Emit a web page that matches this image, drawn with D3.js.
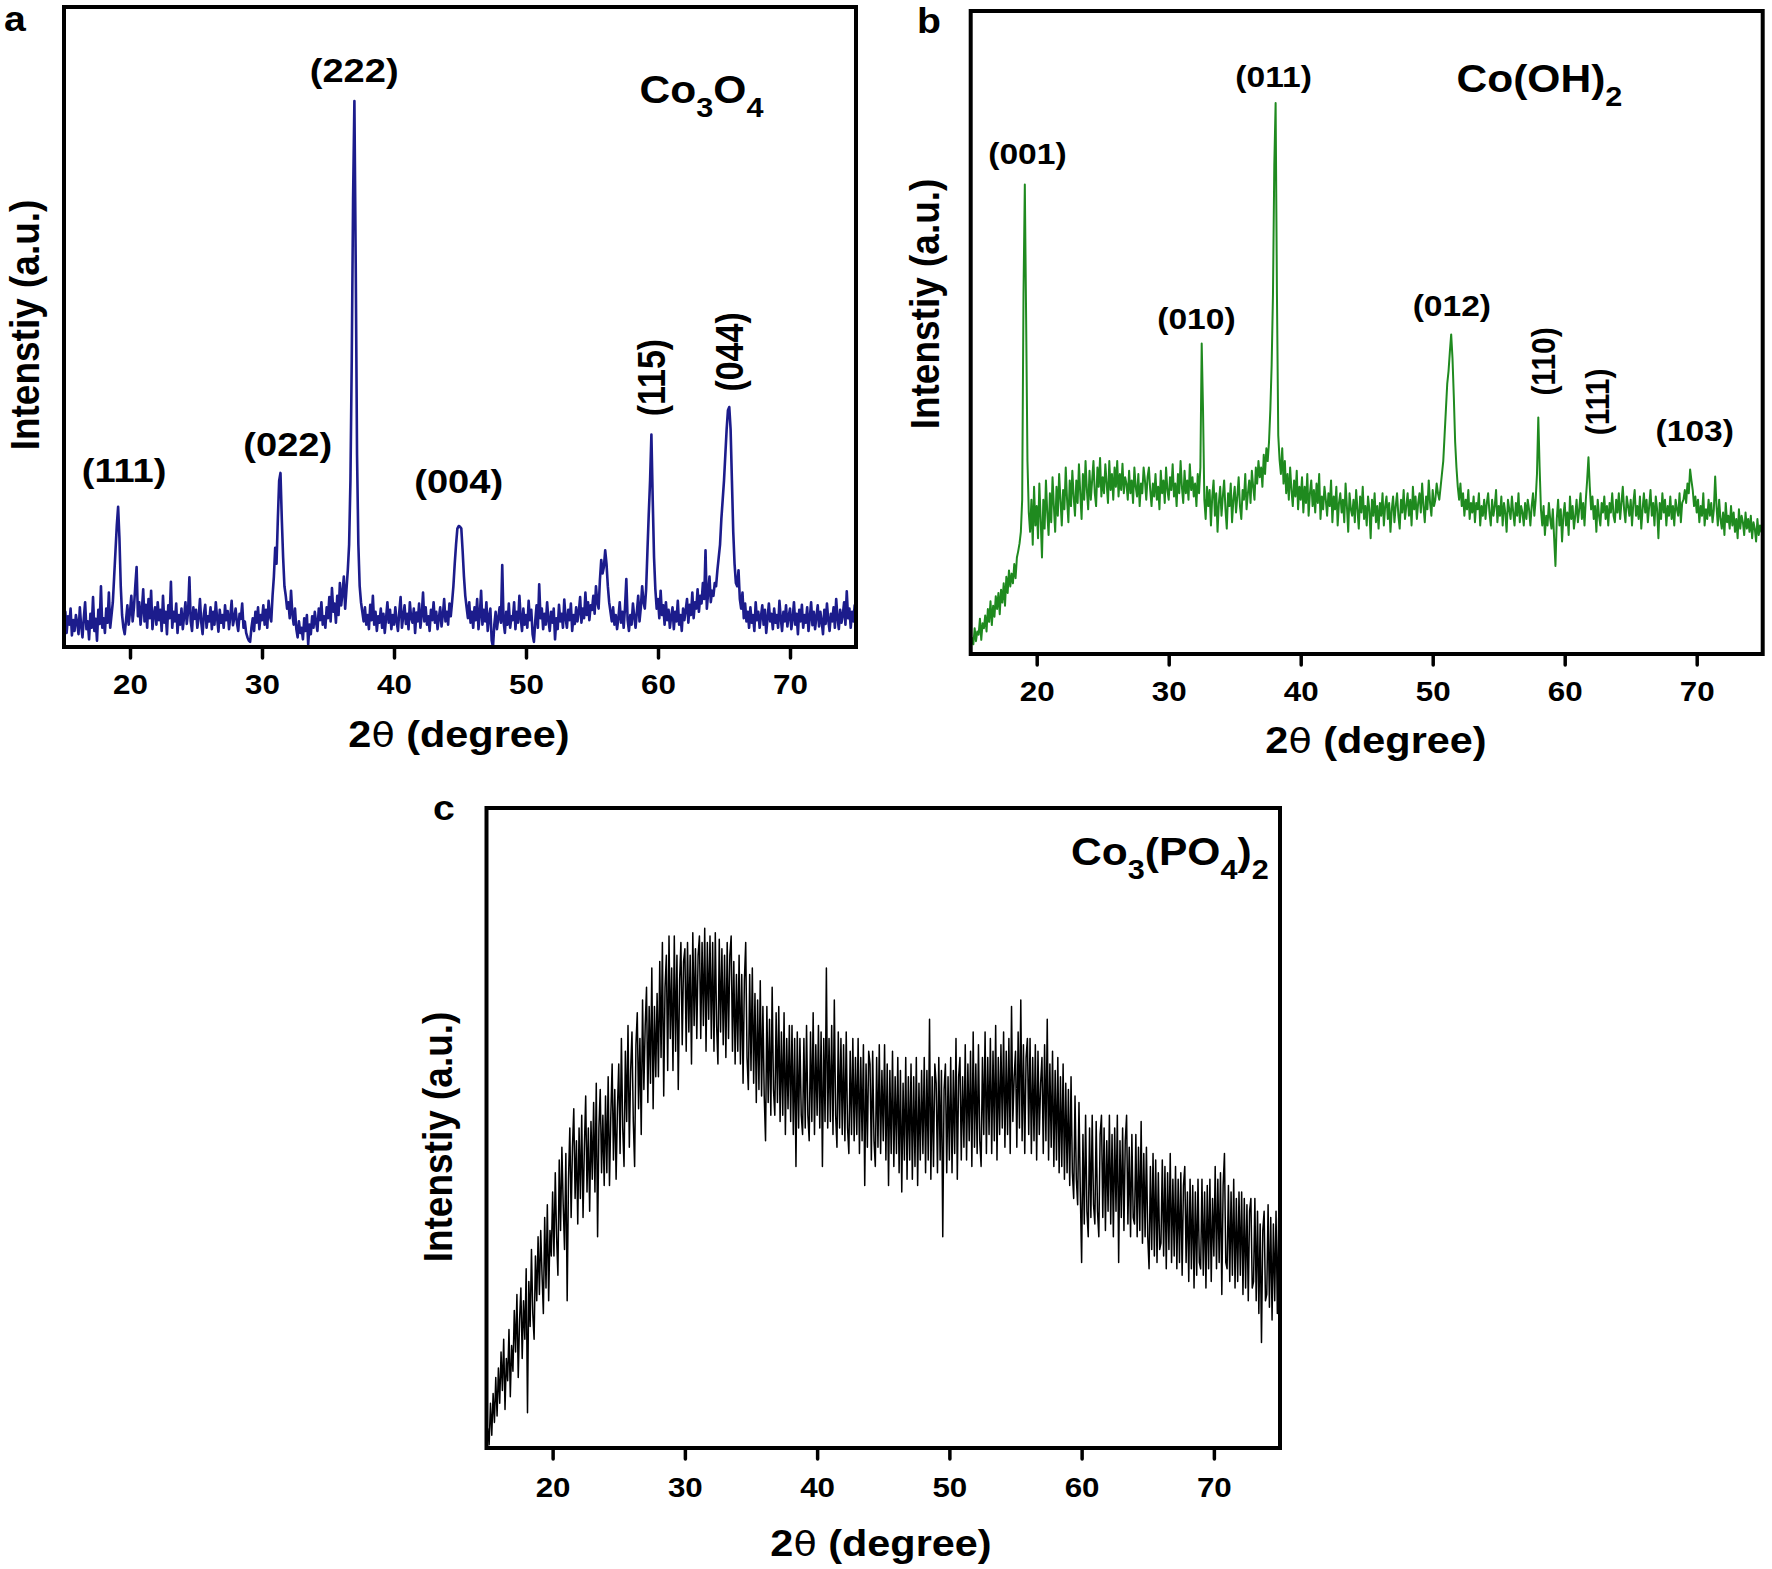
<!DOCTYPE html>
<html><head><meta charset="utf-8">
<script src="https://cdn.jsdelivr.net/npm/d3@7"></script>
<style>html,body{margin:0;padding:0;background:#fff;} svg{display:block;}</style>
</head><body>
<svg id="chart" width="1772" height="1569"></svg>
<script>
// ---- data ----
const twoThetaStart = 15, twoThetaStep = 0.1;   // 2θ grid, degrees
const xDomain = [15, 75];
const tickValues = [20, 30, 40, 50, 60, 70];

// Co3O4 intensity (a.u.), 15.0 .. 75.0 step 0.1
const co3o4 = [
30,55,22,48,35,60,18,42,25,50,
38,20,62,33,15,45,70,28,40,12,
52,30,78,25,44,10,58,36,95,30,
45,22,60,38,85,30,50,70,110,150,
190,219,170,95,50,30,20,42,65,35,
55,80,40,62,95,125,48,70,35,58,
90,40,66,30,75,45,88,28,50,62,
35,70,42,58,25,80,38,55,20,65,
45,102,30,55,40,68,22,50,35,60,
28,48,70,36,55,109,40,25,62,44,
58,30,46,75,38,20,52,66,30,48,
40,62,28,55,35,70,45,24,58,38,
50,30,65,42,56,28,48,72,34,45,
60,38,25,52,44,68,30,40,22,15,
10,8,30,45,25,55,38,62,28,50,
42,65,35,58,30,72,48,40,80,110,
155,130,200,260,272,200,140,95,80,60,
70,45,88,52,35,60,28,15,40,22,
30,12,45,25,50,4,35,20,48,30,
55,38,25,60,42,70,35,48,30,62,
45,78,40,92,55,68,38,80,50,100,
65,85,110,60,90,120,160,260,450,700,
853,600,300,160,95,70,55,40,62,35,
50,28,66,42,80,35,55,25,48,38,
60,30,52,22,45,70,38,58,28,50,
35,62,40,25,55,78,30,48,65,36,
52,28,70,45,38,60,22,54,40,68,
30,50,85,40,62,35,48,25,58,42,
70,38,55,28,46,62,32,50,75,40,
55,35,68,48,70,95,130,160,185,189,
188,185,150,110,80,62,45,70,38,55,
30,62,42,75,28,50,88,35,58,40,
70,25,48,60,10,0,35,55,28,45,
62,38,128,40,22,55,35,68,30,48,
42,70,28,55,38,80,45,25,60,35,
50,30,72,42,58,20,8,40,65,30,
98,45,60,28,52,35,70,42,25,55,
38,60,12,45,28,66,40,52,30,74,
45,30,58,42,68,25,50,36,62,40,
55,78,38,60,45,85,50,70,42,65,
58,80,52,95,70,60,105,136,115,125,
151,130,95,70,55,40,62,35,50,28,
45,70,38,55,30,62,106,42,25,50,
35,68,48,30,55,80,40,62,95,70,
60,90,150,208,260,332,230,140,90,60,
75,45,88,50,65,35,70,42,58,30,
48,62,28,55,40,72,35,50,25,60,
42,58,75,38,66,50,85,45,70,60,
90,55,80,68,100,75,151,60,85,110,
70,88,80,100,95,120,140,160,200,230,
260,300,340,370,375,340,260,180,130,100,
95,120,75,60,85,45,68,40,55,30,
62,38,50,25,70,42,55,30,48,65,
35,58,22,45,68,40,52,28,60,38,
50,30,72,45,25,55,40,65,32,48,
60,28,44,70,35,52,20,58,40,66,
30,50,38,62,25,46,70,34,55,28,
48,65,32,55,40,20,58,36,68,42,
25,52,40,62,30,75,45,28,58,38,
50,70,35,87,45,60,30,55,40,65,
45];

// Co(OH)2 intensity (a.u.)
const cooh2 = [
9,25,15,40,20,35,30,55,22,48,
40,60,35,70,50,82,45,75,58,90,
70,95,62,100,80,110,75,120,95,130,
105,125,110,140,118,150,160,172,190,240,
560,730,520,300,220,190,240,170,260,200,
230,180,265,210,150,240,195,270,220,185,
250,205,275,230,190,260,215,280,240,200,
255,225,290,240,205,270,230,285,245,215,
270,235,295,250,210,280,240,300,255,225,
285,240,270,300,250,230,290,260,305,245,
275,250,295,265,235,300,255,280,240,290,
260,300,245,280,255,296,250,275,265,240,
285,250,270,235,290,260,245,280,230,265,
250,290,270,240,275,290,255,230,265,245,
280,240,260,225,285,250,270,235,290,255,
240,275,255,295,245,265,230,280,250,300,
260,235,285,250,270,240,295,255,275,245,
265,230,280,250,290,483,380,240,210,260,
230,255,200,245,270,215,250,190,235,260,
215,245,270,225,195,250,230,265,205,240,
260,220,245,275,230,210,255,240,280,225,
250,270,235,285,260,240,290,265,300,275,
290,260,310,280,320,300,330,380,450,560,
760,857,560,340,302,280,320,265,300,250,
280,240,290,255,230,270,245,285,225,260,
240,275,220,260,235,280,215,250,270,230,
255,220,265,235,280,210,245,225,260,240,
215,250,230,270,205,245,225,260,200,235,
250,220,240,205,265,230,190,250,225,215,
240,205,255,225,195,245,220,260,210,230,
200,245,225,180,240,215,250,205,230,195,
235,215,250,200,230,245,210,235,190,225,
245,205,230,250,215,195,240,220,255,210,
230,250,215,240,200,260,225,245,210,235,
250,220,265,230,205,245,225,270,235,215,
255,230,240,265,250,240,260,280,300,340,
380,420,440,470,497,460,400,330,290,260,
240,265,230,250,215,240,225,255,210,235,
220,245,205,235,225,250,200,230,215,240,
210,235,250,220,200,240,215,230,255,205,
230,215,245,200,235,220,190,240,225,210,
245,220,200,235,215,250,205,230,220,200,
235,210,240,225,200,230,250,215,240,280,
368,290,225,200,230,185,215,200,235,210,
195,225,180,137,210,240,200,225,175,215,
235,200,220,185,245,210,230,195,215,240,
205,225,250,210,235,200,240,270,306,260,
225,245,210,230,190,240,215,200,235,220,
245,210,230,200,235,220,250,215,205,240,
220,250,210,235,260,225,205,245,230,215,
240,200,235,255,215,230,210,245,195,225,
250,220,240,205,230,255,215,235,200,245,
225,180,235,210,250,220,240,200,230,215,
245,210,230,200,240,225,215,250,205,235,
240,255,235,265,250,287,270,255,230,245,
220,240,205,230,215,250,200,225,210,240,
215,235,205,225,276,230,200,240,210,195,
220,185,235,205,215,195,230,200,220,190,
210,180,225,195,215,205,185,220,195,210,
190,215,180,205,195,175,210,185,200,190,
189];

// Co3(PO4)2 intensity (a.u.)
const co3po42 = [
0,30,5,70,20,85,40,110,50,125,
70,150,90,170,60,140,105,185,80,160,
120,215,150,240,110,200,250,140,230,170,
280,55,260,190,310,210,170,300,230,330,
240,340,270,210,360,250,380,230,340,300,
400,300,430,330,270,450,340,470,380,310,
460,230,420,500,360,470,530,390,480,350,
500,390,520,360,470,550,400,500,370,510,
420,540,400,570,330,500,560,430,520,410,
550,430,580,410,520,600,450,560,420,530,
600,460,640,500,440,620,510,660,470,590,
650,510,440,630,680,530,640,490,700,560,
660,720,540,690,570,750,530,690,580,710,
580,760,610,790,550,720,770,590,800,640,
750,590,800,620,770,560,730,790,630,760,
780,620,790,650,770,600,805,660,780,640,
770,800,640,790,660,812,620,790,670,800,
640,790,620,805,660,600,795,650,780,630,
770,610,790,640,770,800,620,760,600,740,
620,770,600,740,570,730,790,610,560,740,
590,750,570,710,540,700,560,730,550,690,
550,480,690,540,670,520,720,560,520,680,
540,690,510,650,520,680,490,640,530,660,
510,660,490,640,440,650,500,640,520,490,
640,500,660,520,480,650,510,680,490,630,
520,660,500,650,440,640,510,750,500,640,
510,660,490,700,520,470,650,500,640,490,
630,480,650,500,460,620,490,640,480,610,
490,640,460,610,480,630,410,600,470,620,
600,450,620,480,440,610,470,630,460,590,
480,630,450,600,410,590,460,620,440,580,
460,610,430,590,400,570,450,610,420,580,
450,600,420,580,440,610,410,570,450,590,
460,610,430,590,450,670,420,580,440,600,
570,430,610,450,590,330,560,600,430,580,
450,610,430,590,460,640,420,580,610,450,
580,470,630,450,600,480,620,440,650,470,
600,460,630,480,440,610,490,650,460,610,
490,640,460,620,480,660,450,610,490,630,
500,650,470,620,490,640,460,690,510,580,
620,470,650,500,700,480,630,460,610,640,
490,640,460,610,480,630,450,620,490,570,
610,460,630,480,670,450,600,470,620,440,
590,450,610,430,580,440,600,420,570,430,
560,410,580,430,390,550,420,380,540,400,
290,490,350,520,370,330,500,360,520,380,
350,510,370,330,490,520,360,500,340,480,
370,520,350,490,330,500,370,520,290,480,
360,500,340,480,520,350,470,330,490,360,
350,490,330,470,340,510,320,460,330,470,
330,280,440,310,460,300,450,290,430,310,
320,450,300,440,280,430,310,460,290,420,
300,440,280,420,290,430,270,410,440,290,
400,260,420,280,410,250,400,270,420,290,
280,420,270,400,250,410,280,420,260,390,
300,440,280,420,290,430,240,410,460,290,
280,410,260,400,270,420,250,390,260,400,
270,400,240,390,250,380,230,370,390,250,
260,390,230,370,210,350,165,340,370,230,
240,380,220,360,200,350,230,370,210,360,
310];

// peak (hkl) labels: 2θ and intensity of the label anchor
const co3o4Labels = [
  {text:"(111)", t:19.55, v:258, rot:false},
  {text:"(022)", t:31.95, v:298, rot:false},
  {text:"(222)", t:36.98, v:883, rot:false},
  {text:"(004)", t:44.9,  v:240, rot:false},
  {text:"(115)", t:59.55, v:421, rot:true},
  {text:"(044)", t:65.45, v:461, rot:true}
];
const cooh2Labels = [
  {text:"(001)", t:19.3,  v:762, rot:false},
  {text:"(010)", t:32.1,  v:505, rot:false},
  {text:"(011)", t:37.95, v:882, rot:false},
  {text:"(012)", t:51.45, v:525, rot:false},
  {text:"(110)", t:58.4,  v:455, rot:true},
  {text:"(111)", t:62.45, v:392, rot:true},
  {text:"(103)", t:69.85, v:332, rot:false}
];
const co3o4Formula   = [["Co",0],["3",1],["O",0],["4",1]];
const cooh2Formula   = [["Co(OH)",0],["2",1]];
const co3po42Formula = [["Co",0],["3",1],["(PO",0],["4",1],[")",0],["2",1]];
const panelLetters = ["a","b","c"];
const yTitle = "Intenstiy (a.u.)";

// ---- layout / style ----
const SX = 1.12;
const FONT = "'Liberation Sans', Arial, Helvetica, sans-serif";
const panels = [
  {letter:panelLetters[0], data:co3o4, color:"#1c1c8c", sw:2.6, left:64, right:856, top:7, bottom:647,
   labels:co3o4Labels, labelFs:34, formula:co3o4Formula, fT:58.6, fV:850,
   letterX:4, letterY:31, yTitleX:24, yTitleY:325, titleX:459, titleY:747, tickY:47},
  {letter:panelLetters[1], data:cooh2, color:"#1f8a1f", sw:2.0, left:970.7, right:1762.7, top:11, bottom:654,
   labels:cooh2Labels, labelFs:30, formula:cooh2Formula, fT:51.8, fV:874,
   letterX:917, letterY:33, yTitleX:924, yTitleY:304, titleX:1376, titleY:753, tickY:47},
  {letter:panelLetters[2], data:co3po42, color:"#000000", sw:1.5, left:486.5, right:1280, top:808, bottom:1448,
   labels:[], labelFs:34, formula:co3po42Formula, fT:59.2, fV:911,
   letterX:433, letterY:820, yTitleX:437, yTitleY:1137, titleX:881, titleY:1556, tickY:49}
];

const svg = d3.select("#chart").attr("font-family", FONT).attr("font-weight", "bold");

function stretchedText(g, x, y, str, fs, rotate) {
  return g.append("text")
    .attr("transform", `translate(${x},${y}) scale(${SX},1)` + (rotate ? " rotate(-90)" : ""))
    .attr("font-size", fs).attr("text-anchor", "middle").attr("fill", "#000").text(str);
}

panels.forEach(p => {
  const g = svg.append("g");
  const x = d3.scaleLinear().domain(xDomain).range([p.left, p.right]);
  const y = d3.scaleLinear().domain([0, 1000]).range([p.bottom, p.top]);

  const line = d3.line()
    .x((d, i) => x(twoThetaStart + i * twoThetaStep))
    .y(d => y(d));
  g.append("path").datum(p.data).attr("d", line)
    .attr("fill", "none").attr("stroke", p.color).attr("stroke-width", p.sw)
    .attr("stroke-linejoin", "round");

  // axis
  const ax = g.append("g").attr("transform", `translate(0,${p.bottom})`)
    .call(d3.axisBottom(x).tickValues(tickValues).tickSize(11).tickFormat(d3.format("d")));
  ax.select(".domain").remove();
  ax.selectAll(".tick line").attr("stroke", "#000").attr("stroke-width", 3.5).attr("stroke-linecap", "round");
  ax.selectAll(".tick text").attr("y", p.tickY).attr("dy", 0)
    .attr("transform", `scale(${SX},1)`).attr("font-size", 28).attr("font-weight", "bold")
    .attr("font-family", FONT).attr("fill", "#000");

  // frame
  g.append("rect").attr("x", p.left).attr("y", p.top)
    .attr("width", p.right - p.left).attr("height", p.bottom - p.top)
    .attr("fill", "none").attr("stroke", "#000").attr("stroke-width", 4);

  // panel letter
  g.append("text").attr("transform", `translate(${p.letterX},${p.letterY}) scale(${SX},1)`)
    .attr("font-size", 35).text(p.letter);

  // y title
  stretchedText(g, p.yTitleX, p.yTitleY, yTitle, 37, true).attr("dy", "0.35em");

  // x title
  const xt = g.append("text").attr("transform", `translate(${p.titleX},${p.titleY}) scale(${SX},1)`)
    .attr("font-size", 37).attr("text-anchor", "middle");
  xt.append("tspan").text("2");
  xt.append("tspan").attr("font-weight", "normal").attr("font-family", "'DejaVu Sans', sans-serif").attr("font-size", 34).text("θ");
  xt.append("tspan").text(" (degree)");

  // peak labels
  p.labels.forEach(l => {
    const t = stretchedText(g, x(l.t), y(l.v), l.text, p.labelFs, l.rot);
    if (l.rot) t.attr("dy", "0.35em");
  });

  // formula
  const fs = 38;
  const ft = g.append("text").attr("transform", `translate(${x(p.fT)},${y(p.fV)}) scale(${SX},1)`)
    .attr("font-size", fs);
  let shifted = false;
  p.formula.forEach(([s, sub]) => {
    const ts = ft.append("tspan").text(s);
    if (sub) {
      ts.attr("font-size", fs * 0.72);
      if (!shifted) { ts.attr("dy", fs * 0.36); shifted = true; }
    } else if (shifted) {
      ts.attr("dy", -fs * 0.36); shifted = false;
    }
  });
});
</script>
</body></html>
